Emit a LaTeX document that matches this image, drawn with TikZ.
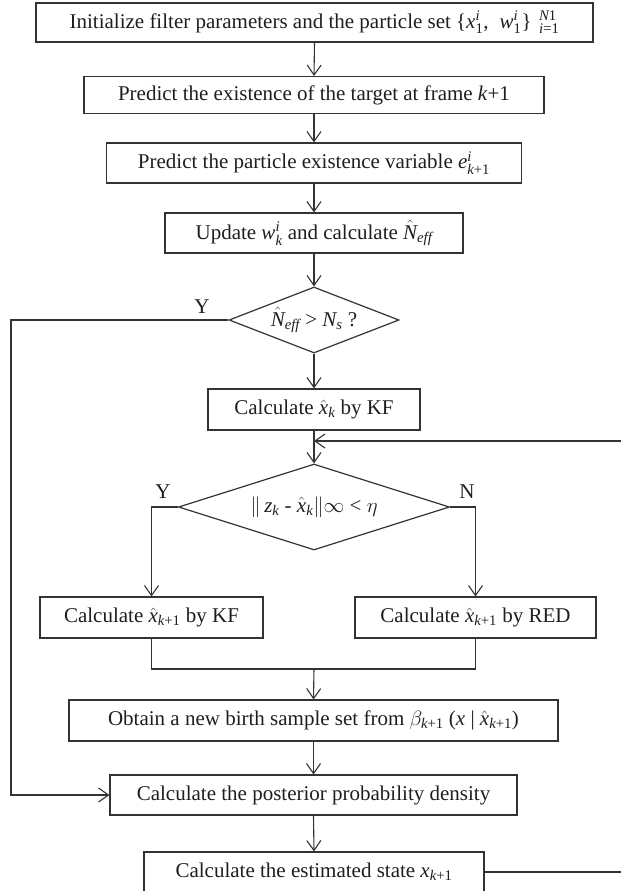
\documentclass[tikz,border=0pt]{standalone}
\usepackage{amsmath}
\usepackage{fontspec}
\setmainfont{Liberation Serif}
\usetikzlibrary{arrows.meta,shapes.geometric}
\definecolor{lc}{RGB}{51,51,51}
\definecolor{tc}{RGB}{30,30,30}
\newcommand{\tv}[1]{\textit{#1}}
\newcommand{\tr}[1]{\textup{#1}}
\begin{document}
\begin{tikzpicture}[x=1pt,y=-1pt,
  every node/.style={font=\fontsize{21}{24}\selectfont, text=tc},
  box/.style={draw=lc, line width=1.1pt, inner sep=0pt, minimum height=40pt},
  dia/.style={draw=lc, line width=1.2pt, diamond, inner sep=0pt},
  conn/.style={draw=lc, line width=1.1pt},
  arr/.style={conn, -{Straight Barb[length=10pt,width=14pt,line width=1.1pt]}},
  lbl/.style={inner sep=0pt}]
\useasboundingbox (0,0) rectangle (621,891);

\node[box,minimum width=557pt,minimum height=39pt] (b1) at (314.5,22.5) {Initialize filter parameters and the particle set \{$\tv{x}^{\tv{i}}_{\tr{1}}$,\; $\tv{w}^{\tv{i}}_{\tr{1}}$\}\,$^{\;\tv{N}\tr{1}}_{\;\tv{i}\tr{=1}}$};
\node[box,minimum width=460pt,minimum height=37pt] (b2) at (314,95) {Predict the existence of the target at frame \textit{k}+1};
\node[box,minimum width=415pt] (b3) at (314,163) {Predict the particle existence variable $\tv{e}^{\tv{i}}_{\tv{k}\tr{+1}}$};
\node[box,minimum width=298pt] (b4) at (314,233) {Update $\tv{w}^{\tv{i}}_{\tv{k}}$ and calculate $\hat{\tv{N}}_{\tv{eff}}$};
\node[dia,shape aspect=2.58,minimum width=170pt,minimum height=66pt] (d1) at (314,320) {$\hat{\tv{N}}_{\tv{eff}}$ > $\tv{N}_{\tv{s}}$ ?};
\node[box,minimum width=212pt,minimum height=41pt] (b5) at (314,409.5) {Calculate $\hat{\tv{x}}_{\tv{k}}$ by KF};
\node[dia,shape aspect=3.15,minimum width=271pt,minimum height=86pt] (d2) at (314,507) {$\|\,\tv{z}_{\tv{k}}$ - $\hat{\tv{x}}_{\tv{k}}\|$$\infty$ < $\eta$};
\node[box,minimum width=223pt,minimum height=41pt] (kf) at (151.5,617.5) {Calculate $\hat{\tv{x}}_{\tv{k}\tr{+1}}$ by KF};
\node[box,minimum width=241pt,minimum height=41pt] (red) at (475.5,617.5) {Calculate $\hat{\tv{x}}_{\tv{k}\tr{+1}}$ by RED};
\node[box,minimum width=489pt,minimum height=41pt] (ob) at (313.5,720.5) {Obtain a new birth sample set from $\beta_{\tv{k}\tr{+1}}$ ($\tv{x}$ | $\hat{\tv{x}}_{\tv{k}\tr{+1}}$)};
\node[box,minimum width=407pt] (post) at (313.5,795) {Calculate the posterior probability density};
\node[box,minimum width=340pt] (last) at (314,872) {Calculate the estimated state $\tv{x}_{\tv{k}\tr{+1}}$};

\node[lbl] (y1) at (202,307) {Y};
\node[lbl] (y2) at (163,492) {Y};
\node[lbl] (n2) at (467,492) {N};

\coordinate (L) at (11,320);
\coordinate (R1) at (621,441);
\coordinate (R2) at (621,872);
\coordinate (M) at (314,669);

\draw[arr] (b1.south) -- (b2.north);
\draw[arr] (b2.south) -- (b3.north);
\draw[arr] (b3.south) -- (b4.north);
\draw[arr] (b4.south) -- (d1.north);
\draw[arr] (d1.south) -- (b5.north);
\draw[arr] (d1.west) -- (L) |- (post.west);
\draw[arr] (b5.south) -- (d2.north);
\draw[arr] (R1) -- (b5.south |- R1);
\draw[arr] (d2.west) -| (kf.north);
\draw[arr] (d2.east) -| (red.north);
\draw[conn] (kf.south) |- (M) -| (red.south);
\draw[arr] (M) -- (ob.north);
\draw[arr] (ob.south) -- (post.north);
\draw[arr] (post.south) -- (last.north);
\draw[conn] (last.east) -- (R2);
\end{tikzpicture}
\end{document}
